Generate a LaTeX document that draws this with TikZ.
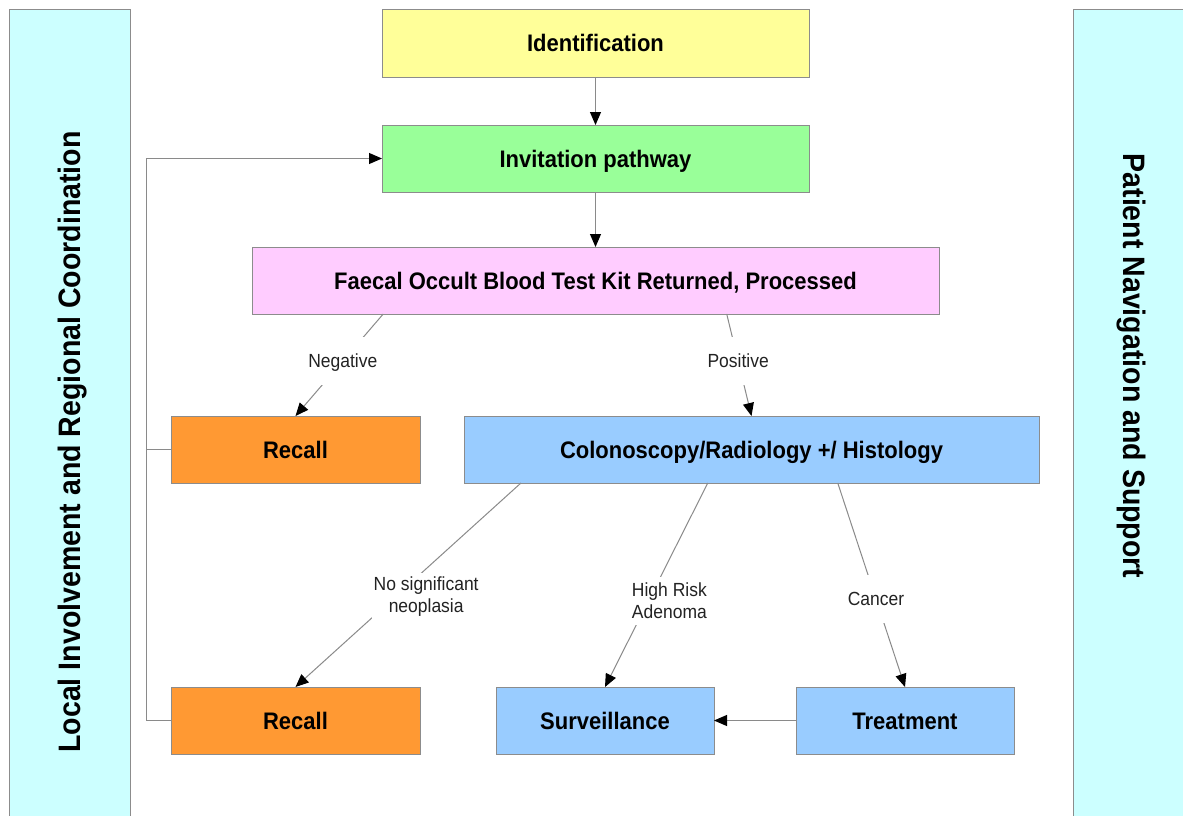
\documentclass[tikz,border=0pt]{standalone}
\usepackage{fontspec}
\setmainfont[FakeStretch=0.92]{Liberation Sans}
\usetikzlibrary{arrows.meta,calc}
\definecolor{panelfill}{HTML}{CCFFFF}
\definecolor{identfill}{HTML}{FFFF99}
\definecolor{invitfill}{HTML}{99FF99}
\definecolor{faecalfill}{HTML}{FFCCFF}
\definecolor{recallfill}{HTML}{FF9933}
\definecolor{bluefill}{HTML}{99CCFF}
\definecolor{boxgray}{HTML}{8C8C8C}
\definecolor{linegray}{HTML}{8A8A8A}
\definecolor{labeltext}{HTML}{222222}
\begin{document}
\begin{tikzpicture}[x=1pt,y=-1pt,
  box/.style={draw=boxgray, line width=1pt, minimum height=67pt, inner sep=0pt, outer sep=0pt,
    text height=22pt, text depth=5pt,
    font=\fontsize{23.9}{28}\selectfont\bfseries},
  panel/.style={draw=boxgray, line width=1pt, fill=panelfill, minimum width=121pt, minimum height=840pt,
    inner sep=0pt, outer sep=0pt},
  paneltext/.style={font=\fontsize{31}{34}\selectfont\bfseries, inner sep=0pt},
  conn/.style={draw=linegray, line width=1pt},
  arr/.style={conn, -{Triangle[length=13pt,width=11pt,color=black]}},
  lbl/.style={fill=white, inner sep=2pt, minimum height=48pt, align=center,
    font=\fontsize{19}{22}\selectfont, text=labeltext},
  lblone/.style={lbl, text height=17.6pt, text depth=4pt}]
\useasboundingbox (0,0) rectangle (1183,816);
\clip (0,0) rectangle (1183,816);
\fill[white] (0,0) rectangle (1183,816);

% side panels
\node[panel, anchor=north west] (lpanel) at (9,10) {};
\node[panel, anchor=north west] (rpanel) at (1073,10) {};
\node[paneltext, rotate=90] (ltext) at (73,442) {Local Involvement and Regional Coordination};
\node[paneltext, rotate=-90] (rtext) at (1131,366) {Patient Navigation and Support};

% boxes
\node[box, fill=identfill, minimum width=427pt] (ident) at (595.5,43.5) {Identification};
\node[box, fill=invitfill, minimum width=427pt] (invit) at (595.5,158.5) {Invitation pathway};
\node[box, fill=faecalfill, minimum width=687pt] (faecal) at (595.5,280.5) {Faecal Occult Blood Test Kit Returned, Processed};
\node[box, fill=recallfill, minimum width=249pt] (recall1) at (295.5,449.5) {Recall};
\node[box, fill=bluefill, minimum width=575pt] (colon) at (751.5,449.5) {Colonoscopy/Radiology +/ Histology};
\node[box, fill=recallfill, minimum width=249pt] (recall2) at (295.5,720.5) {Recall};
\node[box, fill=bluefill, minimum width=218pt] (surv) at (605,720.5) {Surveillance};
\node[box, fill=bluefill, minimum width=218pt] (treat) at (905,720.5) {Treatment};

% connectors
\draw[arr] (ident) -- (invit);
\draw[arr] (invit) -- (faecal);
\draw[arr] ($(faecal.south west)!0.191!(faecal.south east)$) -- node[lblone,pos=0.461] {Negative} (recall1.north);
\draw[arr] ($(faecal.south west)!0.691!(faecal.south east)$) -- node[lblone,pos=0.461] {Positive} (colon.north);
\draw[arr] ($(colon.south west)!0.099!(colon.south east)$) -- node[lbl,pos=0.549,xshift=29pt,yshift=-2pt] {No significant\\neoplasia} (recall2.north);
\draw[arr] ($(colon.south west)!0.424!(colon.south east)$) -- node[lbl,pos=0.578,xshift=21pt] {High Risk\\Adenoma} (surv.north);
\draw[arr] ($(colon.south west)!0.650!(colon.south east)$) -- node[lblone,pos=0.569] {Cancer} (treat.north);
\draw[arr] (treat.west) -- (surv.east);
\draw[arr] (recall2.west) -- ++(-25,0) |- (invit.west);
\draw[conn] (recall1.west) -- ++(-25,0);
\end{tikzpicture}
\end{document}
